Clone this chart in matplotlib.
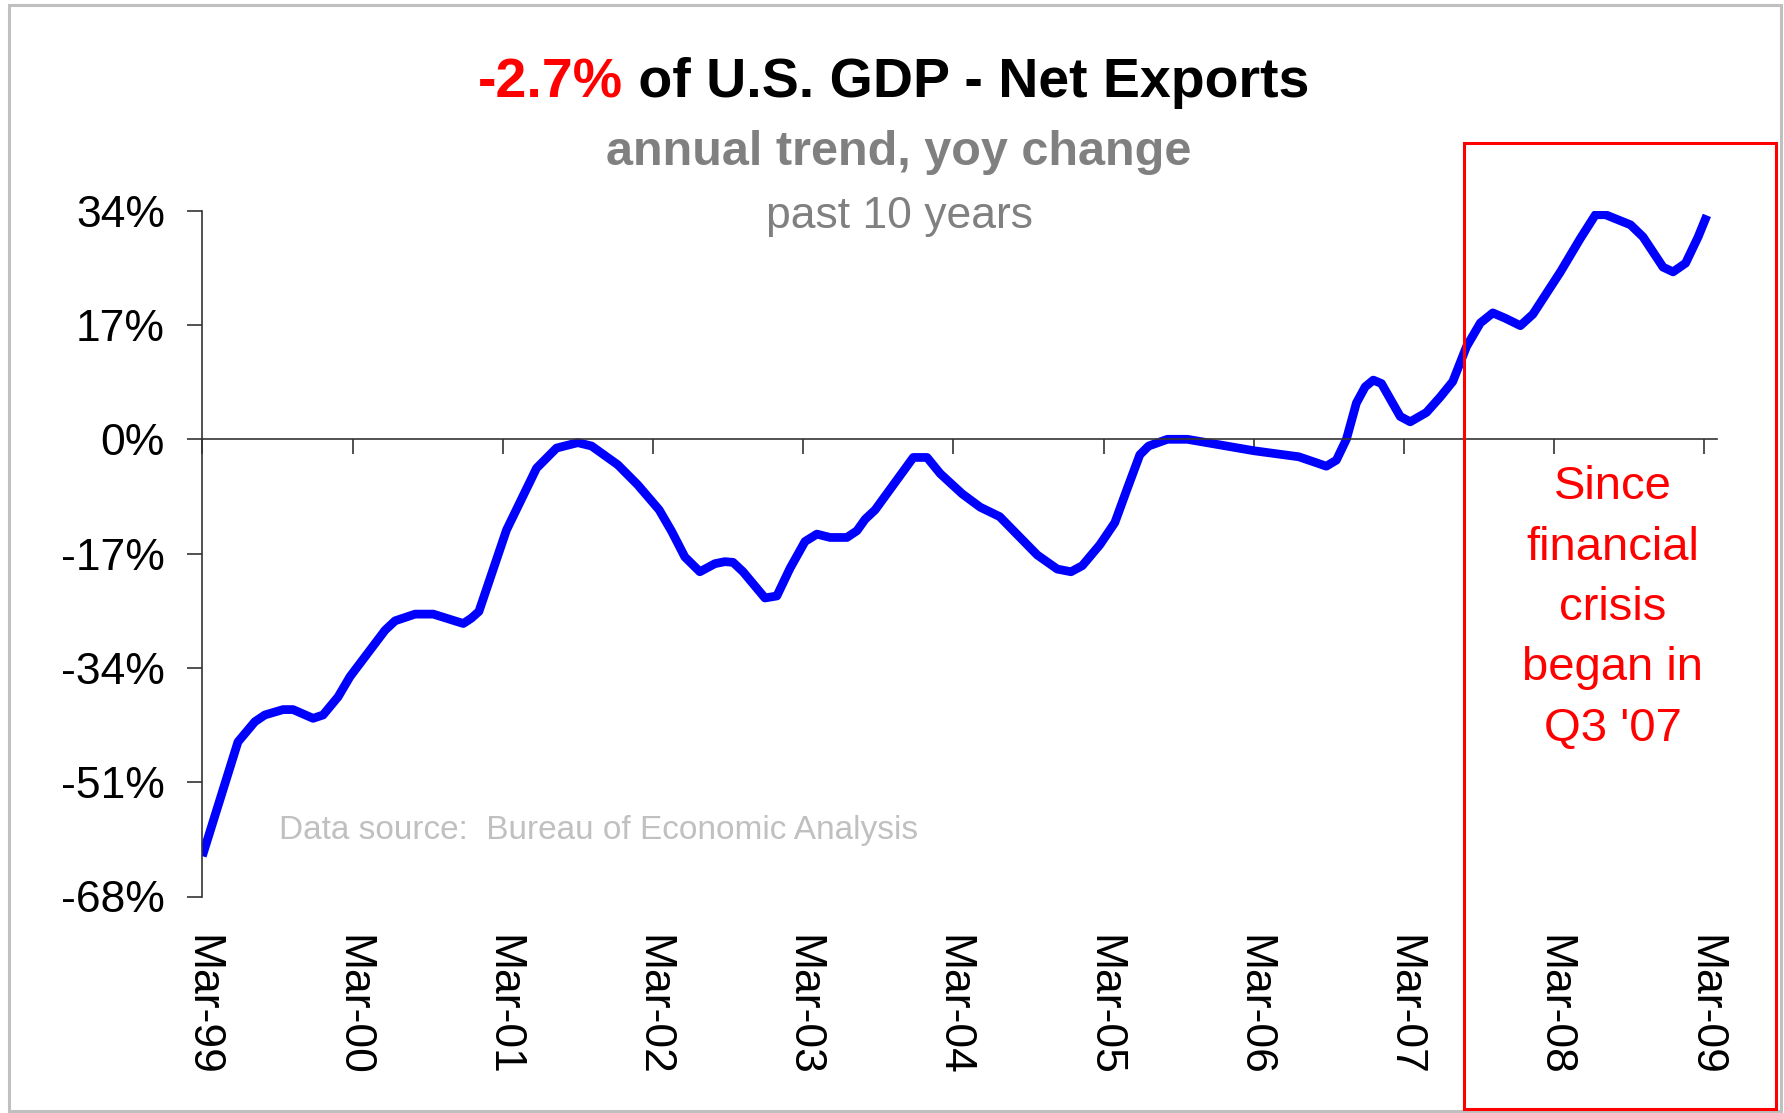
import matplotlib
matplotlib.use("Agg")
import matplotlib.pyplot as plt
from matplotlib.patches import Rectangle

plt.rcParams['font.family'] = ['Liberation Sans', 'DejaVu Sans']

# ---- data (month index from Mar-99, value in %) ----
months = [0, 2.85, 4.2, 5.0, 6.45, 7.25, 8.85, 9.65, 10.85, 11.8, 14.6, 15.4, 17.0, 18.45,
          20.85, 21.5, 22.1, 24.3, 26.7, 28.3, 30.0, 31.1,
          33.2, 34.8, 36.5, 37.5, 38.55, 39.75, 40.95, 41.75, 42.4, 43.2, 44.95, 45.9,
          46.95, 48.15, 49.1, 50.15, 51.5, 52.3, 52.95, 53.75, 56.8, 57.9, 58.95, 60.7,
          62.15, 63.7, 66.7, 68.3, 69.4, 70.3, 71.7, 72.9, 73.9, 74.9, 75.6, 77.1, 78.7,
          84.0, 87.6, 89.8, 90.6, 91.4, 92.2, 92.9, 93.55, 94.2, 95.7, 96.5, 97.8, 98.9,
          99.9, 101.0, 102.1, 103.1, 104.1, 105.3, 106.3, 108.5, 110.1, 111.3, 112.1,
          114.1, 115.1, 116.7, 117.5, 118.5, 119.5, 120.2]
values = [-62.0, -45.0, -42.0, -41.0, -40.2, -40.2, -41.5, -41.0, -38.3, -35.3, -28.4, -27.0,
          -26.0, -26.0, -27.4, -26.6, -25.6, -13.5, -4.3, -1.3, -0.5, -1.0,
          -3.8, -6.8, -10.5, -13.7, -17.5, -19.7, -18.5, -18.2, -18.3, -19.7, -23.6, -23.3,
          -19.2, -15.2, -14.1, -14.6, -14.6, -13.6, -11.9, -10.5, -2.7, -2.7, -5.1, -8.1,
          -10.1, -11.5, -17.2, -19.3, -19.7, -18.8, -15.7, -12.4, -7.3, -2.3, -1.0, 0.0, 0.0,
          -1.7, -2.6, -4.0, -3.1, 0.0, 5.4, 7.8, 8.8, 8.3, 3.4, 2.6, 4.0, 6.3,
          8.6, 13.8, 17.3, 18.8, 18.0, 16.9, 18.6, 24.9, 29.9, 33.4, 33.4,
          31.9, 30.1, 25.6, 24.9, 26.2, 30.1, 33.3]

xtick_pos = [0, 12, 24, 36, 48, 60, 72, 84, 96, 108, 120]
xtick_labels = ['Mar-99', 'Mar-00', 'Mar-01', 'Mar-02', 'Mar-03', 'Mar-04',
                'Mar-05', 'Mar-06', 'Mar-07', 'Mar-08', 'Mar-09']
ytick_pos = [-68, -51, -34, -17, 0, 17, 34]
ytick_labels = ['-68%', '-51%', '-34%', '-17%', '0%', '17%', '34%']

title_red = '-2.7%'
title_black = ' of U.S. GDP - Net Exports'
subtitle = 'annual trend, yoy change'
subtitle2 = 'past 10 years'
source = 'Data source:  Bureau of Economic Analysis'
note = "Since\nfinancial\ncrisis\nbegan in\nQ3 '07"

W, H = 1784, 1113
fig = plt.figure(figsize=(W / 100, H / 100), dpi=100)
fig.patch.set_facecolor('white')

ax = fig.add_axes([202.3 / W, 1 - 896.5 / H, (1716.9 - 202.3) / W, (896.5 - 210.7) / H])
ax.plot(months, values, color='#0000FF', lw=6.3, solid_joinstyle='round', solid_capstyle='butt')
ax.set_xlim(0, 121)
ax.set_ylim(-68, 34)

axis_col = '#333333'
for s in ['top', 'right']:
    ax.spines[s].set_visible(False)
ax.spines['left'].set_color(axis_col)
ax.spines['left'].set_linewidth(1.2)
ax.spines['bottom'].set_position(('data', 0))
ax.spines['bottom'].set_color(axis_col)
ax.spines['bottom'].set_linewidth(1.2)

ax.set_yticks(ytick_pos, labels=ytick_labels)
ax.tick_params(axis='y', direction='out', length=10.8, width=1.2, color=axis_col,
               labelsize=32, pad=16)
ax.set_xticks(xtick_pos)
ax.tick_params(axis='x', direction='out', length=10.8, width=1.2, color=axis_col,
               labelbottom=False)

sec = ax.secondary_xaxis(0)
sec.set_xticks(xtick_pos, labels=xtick_labels)
sec.tick_params(axis='x', length=0, pad=28, labelsize=32, labelrotation=270)
sec.spines['bottom'].set_visible(False)

# titles
t1 = fig.text(478 / W, 1 - 97 / H, title_red, ha='left', va='baseline',
              fontsize=40, fontweight='bold', color='#FF0000')
ax.annotate(title_black, xy=(1, 0), xycoords=t1, ha='left', va='bottom',
            fontsize=40, fontweight='bold', color='black', annotation_clip=False)
fig.text(899 / W, 1 - 165 / H, subtitle, ha='center', va='baseline',
         fontsize=35, fontweight='bold', color='#808080')
fig.text(899 / W, 1 - 228 / H, subtitle2, ha='center', va='baseline',
         fontsize=32, color='#808080')
fig.text(279 / W, 1 - 838.6 / H, source, ha='left', va='baseline',
         fontsize=24, color='#C0C0C0')

fig.text(1613 / W, 1 - 608 / H, note, ha='center', va='center', multialignment='center',
         fontsize=34, color='#FF0000', linespacing=1.48)

fig.add_artist(Rectangle((1464 / W, 1 - 1109 / H), (1776 - 1464) / W, (1109 - 143) / H,
                         transform=fig.transFigure, fill=False, edgecolor='#FF0000', lw=2.2))
fig.add_artist(Rectangle((9 / W, 1 - 1111 / H), (1781 - 9) / W, (1111 - 5) / H,
                         transform=fig.transFigure, fill=False, edgecolor='#C0C0C0', lw=2.2,
                         zorder=-1))

fig.savefig('out.png', dpi=100, facecolor='white')
